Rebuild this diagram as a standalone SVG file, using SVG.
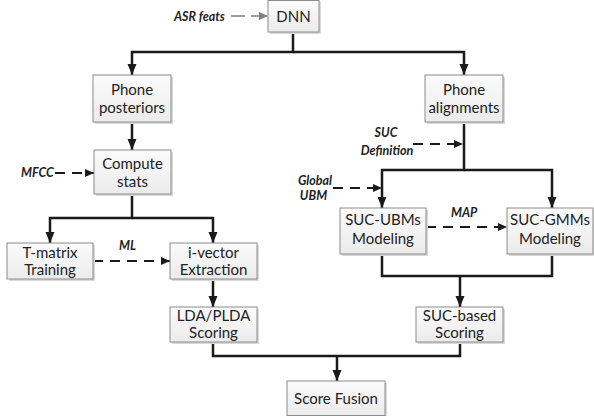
<svg xmlns="http://www.w3.org/2000/svg" width="594" height="416" viewBox="0 0 594 416">
<style>
.box{fill:url(#g);stroke:#8c8c8c;stroke-width:1}
.sh{fill:#d9d9d9}
.t{font-family:Lato,"Liberation Sans",sans-serif;font-size:15px;fill:#222;text-anchor:middle}
.l{font-family:Lato,"Liberation Sans",sans-serif;font-size:12.5px;font-weight:bold;font-style:italic;fill:#222}
.c{fill:none;stroke:#1a1a1a;stroke-width:2.5}
.d{fill:none;stroke:#1a1a1a;stroke-width:2;stroke-dasharray:10 7}
.dg{fill:none;stroke:#7f7f7f;stroke-width:1.6;stroke-dasharray:14 6}
</style>
<defs>
<linearGradient id="g" x1="0" y1="0" x2="0" y2="1">
<stop offset="0" stop-color="#fbfbfb"/>
<stop offset="1" stop-color="#ebebeb"/>
</linearGradient>
<marker id="a" markerUnits="userSpaceOnUse" markerWidth="12" markerHeight="10" refX="11" refY="4.5" orient="auto">
<path d="M0,0 L11,4.5 L0,9 z" fill="#1a1a1a"/>
</marker>
<marker id="ad" markerUnits="userSpaceOnUse" markerWidth="10" markerHeight="9" refX="9" refY="4" orient="auto">
<path d="M0,0 L9,4 L0,8 z" fill="#1a1a1a"/>
</marker>
<marker id="ag" markerUnits="userSpaceOnUse" markerWidth="10" markerHeight="9" refX="9" refY="4" orient="auto">
<path d="M0,0 L9,4 L0,8 z" fill="#7f7f7f"/>
</marker>
</defs>
<rect width="594" height="416" fill="#fff"/>

<g id="connectors">
<path class="c" d="M293,32 V52 H132 V75" marker-end="url(#a)"/>
<path class="c" d="M293,52 H464 V75" marker-end="url(#a)"/>
<path class="c" d="M132,122 V150" marker-end="url(#a)"/>
<path class="c" d="M132,194 V218 H50 V243" marker-end="url(#a)"/>
<path class="c" d="M132,218 H213 V243" marker-end="url(#a)"/>
<path class="c" d="M213,279 V307" marker-end="url(#a)"/>
<path class="c" d="M213,342 V356 H460 V342"/>
<path class="c" d="M337,356 V381" marker-end="url(#a)"/>
<path class="c" d="M464,122 V170 H382 V208" marker-end="url(#a)"/>
<path class="c" d="M464,170 H552 V208" marker-end="url(#a)"/>
<path class="c" d="M382,254 V276 H552 V254"/>
<path class="c" d="M460,276 V307" marker-end="url(#a)"/>
<path class="dg" d="M231,16 H268" marker-end="url(#ag)"/>
<path class="d" d="M55,173 H94" marker-end="url(#ad)"/>
<path class="d" d="M93,261 H170" marker-end="url(#ad)"/>
<path class="d" d="M413,144 H463" marker-end="url(#ad)"/>
<path class="d" d="M333,188 H382" marker-end="url(#ad)"/>
<path class="d" d="M426,227 H507" marker-end="url(#ad)"/>
<text class="l" x="174" y="21">ASR feats</text>
<text class="l" x="21" y="177">MFCC</text>
<text class="l" x="119" y="250">ML</text>
<text class="l" x="386" y="137" text-anchor="middle">SUC</text>
<text class="l" x="387" y="155" text-anchor="middle">Definition</text>
<text class="l" x="315" y="185" text-anchor="middle">Global</text>
<text class="l" x="313.5" y="200" text-anchor="middle">UBM</text>
<text class="l" x="451" y="217">MAP</text>
</g>

<g id="dnn">
<rect class="sh" x="270" y="2" width="51" height="32"/>
<rect class="box" x="268" y="0.5" width="51" height="31.5"/>
<text class="t" x="293.5" y="21.5">DNN</text>
</g>
<g id="phone-posteriors">
<rect class="sh" x="95" y="77" width="78" height="47"/>
<rect class="box" x="93" y="75" width="78" height="47"/>
<text class="t" x="132" y="95">Phone</text>
<text class="t" x="132" y="113">posteriors</text>
</g>
<g id="phone-alignments">
<rect class="sh" x="427" y="77" width="78" height="47"/>
<rect class="box" x="425" y="75" width="78" height="47"/>
<text class="t" x="464" y="95">Phone</text>
<text class="t" x="464" y="113">alignments</text>
</g>
<g id="compute-stats">
<rect class="sh" x="96" y="152" width="77" height="44"/>
<rect class="box" x="94" y="150" width="77" height="44"/>
<text class="t" x="132.5" y="168.5">Compute</text>
<text class="t" x="132.5" y="186.5">stats</text>
</g>
<g id="t-matrix">
<rect class="sh" x="9" y="245" width="86" height="36"/>
<rect class="box" x="7" y="243" width="86" height="36"/>
<text class="t" x="50" y="257.5">T-matrix</text>
<text class="t" x="50" y="275">Training</text>
</g>
<g id="i-vector">
<rect class="sh" x="172" y="245" width="87" height="36"/>
<rect class="box" x="170" y="243" width="87" height="36"/>
<text class="t" x="213.5" y="257.5">i-vector</text>
<text class="t" x="213.5" y="275">Extraction</text>
</g>
<g id="lda-plda">
<rect class="sh" x="172" y="309" width="87" height="35"/>
<rect class="box" x="170" y="307" width="87" height="35"/>
<text class="t" x="213.5" y="321">LDA/PLDA</text>
<text class="t" x="213.5" y="338">Scoring</text>
</g>
<g id="suc-ubms">
<rect class="sh" x="342" y="210" width="86" height="46"/>
<rect class="box" x="340" y="208" width="86" height="46"/>
<text class="t" x="383" y="225">SUC-UBMs</text>
<text class="t" x="383" y="243.5">Modeling</text>
</g>
<g id="suc-gmms">
<rect class="sh" x="509" y="210" width="86" height="46"/>
<rect class="box" x="507" y="208" width="86" height="46"/>
<text class="t" x="550" y="225">SUC-GMMs</text>
<text class="t" x="550" y="243.5">Modeling</text>
</g>
<g id="suc-based">
<rect class="sh" x="418" y="309" width="87" height="35"/>
<rect class="box" x="416" y="307" width="87" height="35"/>
<text class="t" x="459.5" y="321">SUC-based</text>
<text class="t" x="459.5" y="338">Scoring</text>
</g>
<g id="score-fusion">
<rect class="sh" x="289" y="383" width="98" height="35"/>
<rect class="box" x="287" y="381" width="98" height="34.5"/>
<text class="t" x="336" y="403.5">Score Fusion</text>
</g>
</svg>
